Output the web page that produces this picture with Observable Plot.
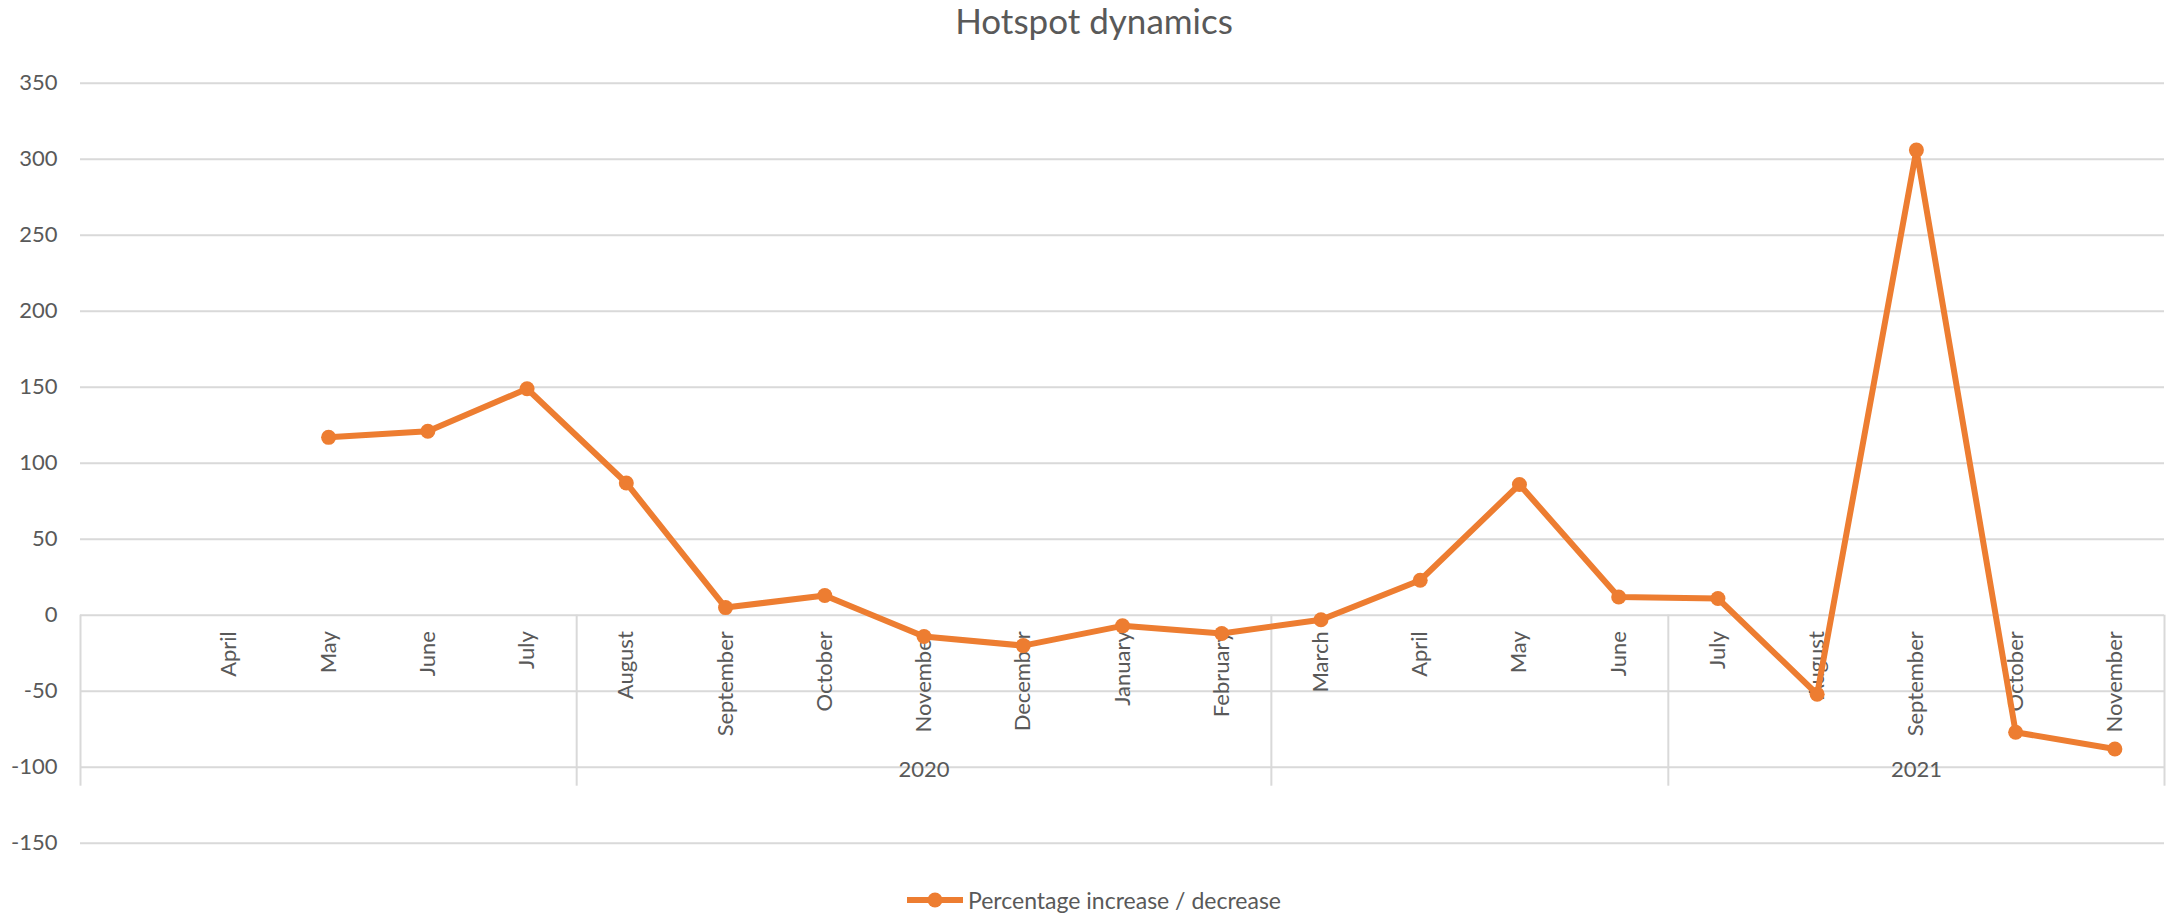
<!DOCTYPE html>
<html>
<head>
<meta charset="utf-8">
<script src="https://cdn.jsdelivr.net/npm/d3@7"></script>
<script src="https://cdn.jsdelivr.net/npm/@observablehq/plot@0.6"></script>
<style>
  html, body { margin: 0; padding: 0; background: #ffffff; }
  body { width: 2177px; height: 914px; overflow: hidden; font-family: Lato, "Open Sans", sans-serif; color: #595959; }
  #title { height: 56px; line-height: 40px; text-align: center; font-size: 35px; padding-left: 11px; box-sizing: border-box; }
  #chart svg { display: block; }
  #legend { height: 44px; box-sizing: border-box; padding-top: 16px; padding-left: 11px; display: flex; justify-content: center; align-items: flex-start; font-size: 23px; line-height: 28px; }
  #legend svg { display: block; margin-right: 5px; }
</style>
</head>
<body>
<div id="title">Hotspot dynamics</div>
<div id="chart"></div>
<div id="legend"></div>
<script>
// Monthly categories (first slot is an empty category)
const months = ["", "April", "May", "June", "July", "August", "September", "October",
  "November", "December", "January", "February", "March", "April", "May", "June",
  "July", "August", "September", "October", "November"];

// Percentage increase / decrease per month (null = no value)
const values = [null, null, 117, 121, 149, 87, 5, 13, -14, -20, -7, -12, -3,
  23, 86, 12, 11, -52, 306, -77, -88];

// Second-level axis groups: index of first category in each group, plus the end
const groupStarts = [0, 5, 12, 16, 21];
const groupLabels = ["", "2020", "", "2021"];

// Value axis ticks
const yTicks = [-150, -100, -50, 0, 50, 100, 150, 200, 250, 300, 350];

const seriesName = "Percentage increase / decrease";
const orange = "#ED7D31";
const gridColor = "#d9d9d9";
const textColor = "#595959";

const index = months.map((_, i) => i);
const points = index.map(i => ({i, v: values[i]}));
const groups = groupLabels.map((label, k) => ({
  label,
  mid: (groupStarts[k] + groupStarts[k + 1] - 1) / 2
}));
// depth of the category-axis dividers below the zero line, in value units
const axisDepth = -112.5;

const chart = Plot.plot({
  width: 2177,
  height: 814,
  marginTop: 26.7,
  marginBottom: 27.3,
  marginLeft: 80,
  marginRight: 13,
  style: {fontFamily: "Lato, 'Open Sans', sans-serif", fontSize: "22px", color: textColor, background: "#ffffff"},
  x: {type: "linear", domain: [-0.5, months.length - 0.5], axis: null},
  y: {domain: [-150, 350], ticks: yTicks, tickSize: 0, tickPadding: 23, tickFormat: d => d < 0 ? "-" + Math.abs(d) : String(d), label: null},
  marks: [
    Plot.gridY(yTicks, {stroke: gridColor, strokeOpacity: 1, strokeWidth: 2}),
    Plot.ruleX(groupStarts, {x: d => d - 0.5, y1: 0, y2: axisDepth, stroke: gridColor, strokeOpacity: 1, strokeWidth: 2}),
    Plot.text(index, {
      x: i => i, y: 0, text: i => months[i],
      rotate: -90, textAnchor: "end", lineAnchor: "middle",
      dy: 16, fill: textColor, fontSize: 22
    }),
    Plot.text(groups, {
      x: "mid", y: 0, text: "label",
      lineAnchor: "middle", dy: 155, fill: textColor, fontSize: 22
    }),
    Plot.line(points, {x: "i", y: "v", stroke: orange, strokeWidth: 6, strokeLinejoin: "round", strokeLinecap: "round"}),
    Plot.dot(points.filter(d => d.v != null), {x: "i", y: "v", r: 7.5, fill: orange, stroke: null})
  ]
});
document.getElementById("chart").appendChild(chart);

// Legend entry: line with a marker, followed by the series name
const legend = d3.select("#legend");
const sw = legend.append("svg").attr("width", 56).attr("height", 28);
sw.append("line").attr("x1", 0).attr("x2", 56).attr("y1", 14).attr("y2", 14)
  .attr("stroke", orange).attr("stroke-width", 6).attr("stroke-linecap", "round");
sw.append("circle").attr("cx", 28).attr("cy", 14).attr("r", 7.5).attr("fill", orange);
legend.append("span").text(seriesName);
</script>
</body>
</html>
